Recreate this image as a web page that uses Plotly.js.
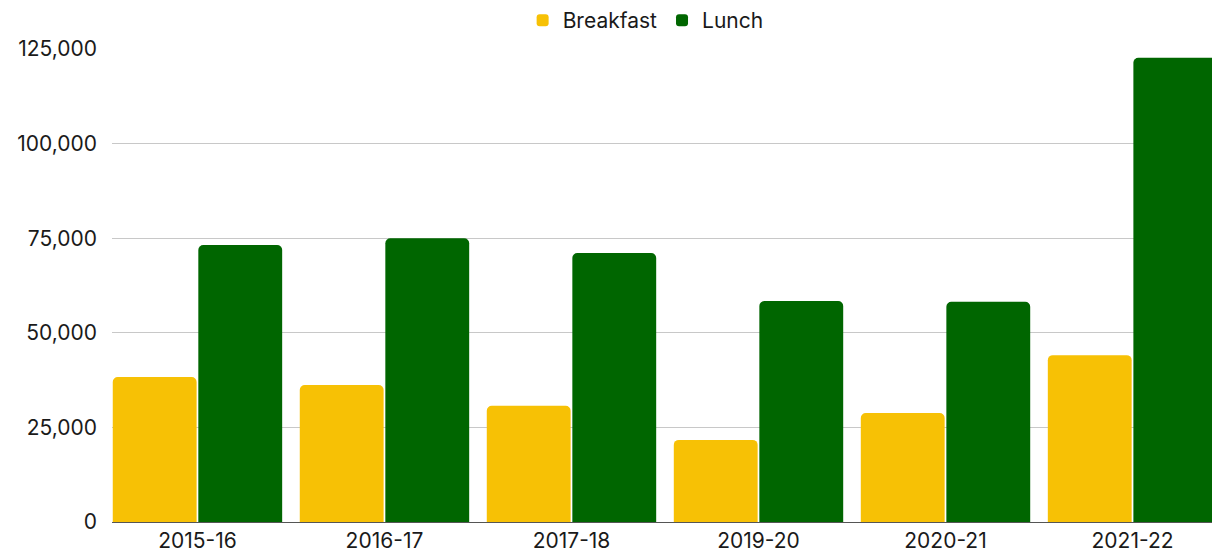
<!DOCTYPE html>
<html>
<head>
<meta charset="utf-8">
<script src="https://cdn.plot.ly/plotly-3.0.1.min.js"></script>
<style>html,body{margin:0;padding:0;background:#fff;}#chart{width:1212px;height:557px;}</style>
</head>
<body>
<div id="chart"></div>
<script>
const years = ["2015-16", "2016-17", "2017-18", "2019-20", "2020-21", "2021-22"];
const breakfast = [38300, 36200, 30700, 21700, 28800, 44100];
const lunch = [73200, 75000, 71100, 58400, 58200, 122700];
const yTicks = [0, 25000, 50000, 75000, 100000, 125000];
const yTickText = ["0", "25,000", "50,000", "75,000", "100,000", "125,000"];

const font = "Inter, 'Libre Franklin', sans-serif";
const fsize = 21;
const traces = [
  {type: "bar", name: "Breakfast", x: years, y: breakfast, marker: {color: "#f7c105"}},
  {type: "bar", name: "Lunch", x: years, y: lunch, marker: {color: "#006600"}}
];
const layout = {
  width: 1212, height: 557,
  margin: {l: 112, r: 0, t: 49, b: 35, pad: 0},
  paper_bgcolor: "#fff", plot_bgcolor: "#fff",
  font: {family: font, size: fsize, color: "#1a1a1a"},
  barmode: "group", bargap: 0.085, bargroupgap: 0.02, barcornerradius: 5,
  showlegend: true,
  legend: {orientation: "h", xref: "container", x: 0.5327, xanchor: "center", yref: "container", y: 1, yanchor: "top",
           font: {family: font, size: fsize, color: "#1a1a1a"}, itemwidth: 30, traceorder: "normal"},
  xaxis: {type: "category", range: [-0.457, 5.425], showgrid: false, ticks: "", showline: true,
          linecolor: "#555", linewidth: 1, tickfont: {family: font, size: fsize, color: "#1a1a1a"}, fixedrange: true},
  yaxis: {range: [0, 125000], tickvals: yTicks, ticktext: yTickText, showgrid: true, gridcolor: "#c8c8c8",
          gridwidth: 1, zeroline: false, showline: false, ticks: "", ticklabelstandoff: 14,
          tickfont: {family: font, size: fsize, color: "#1a1a1a"}, fixedrange: true}
};
Plotly.newPlot("chart", traces, layout, {displayModeBar: false, staticPlot: true});
</script>
</body>
</html>
